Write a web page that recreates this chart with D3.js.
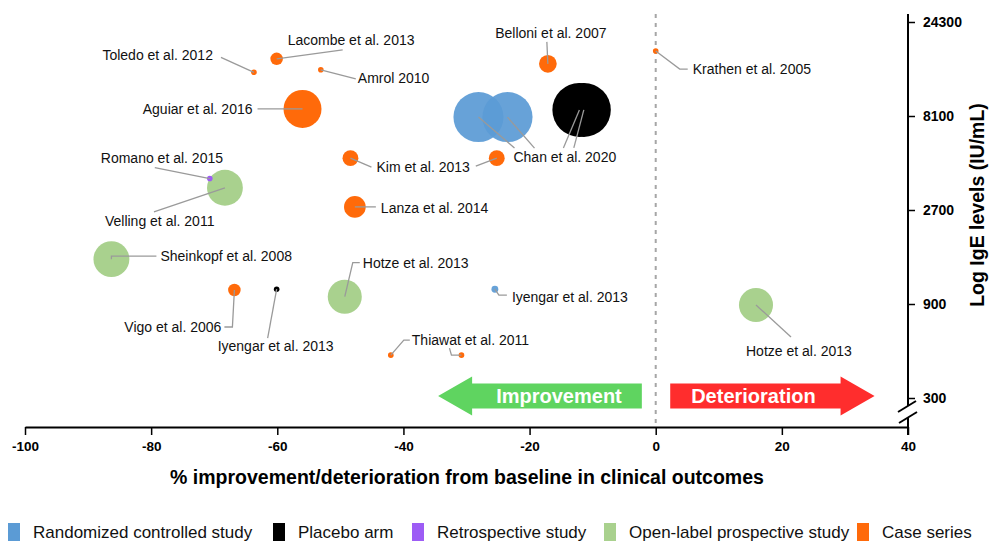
<!DOCTYPE html>
<html>
<head>
<meta charset="utf-8">
<script src="https://cdn.jsdelivr.net/npm/d3@7/dist/d3.min.js"></script>
<style>
  html, body { margin: 0; padding: 0; background: #fff; }
  svg { display: block; font-family: "Liberation Sans", Arial, sans-serif; }
</style>
</head>
<body>
<svg id="chart" width="990" height="542"></svg>
<script>
// ---------------- data ----------------
const studies = [
  "Toledo et al. 2012", "Lacombe et al. 2013", "Amrol 2010", "Aguiar et al. 2016",
  "Romano et al. 2015", "Velling et al. 2011", "Kim et al. 2013", "Kim et al. 2013",
  "Lanza et al. 2014", "Belloni et al. 2007", "Chan et al. 2020", "Chan et al. 2020",
  "Chan et al. 2020", "Chan et al. 2020", "Krathen et al. 2005", "Sheinkopf et al. 2008",
  "Vigo et al. 2006", "Iyengar et al. 2013", "Hotze et al. 2013", "Thiawat et al. 2011",
  "Thiawat et al. 2011", "Iyengar et al. 2013", "Hotze et al. 2013"
];
const designs = [
  "Case series", "Case series", "Case series", "Case series",
  "Retrospective study", "Open-label prospective study", "Case series", "Case series",
  "Case series", "Case series", "Randomized controlled study", "Randomized controlled study",
  "Placebo arm", "Placebo arm", "Case series", "Open-label prospective study",
  "Case series", "Placebo arm", "Open-label prospective study", "Case series",
  "Case series", "Randomized controlled study", "Open-label prospective study"
];
// % improvement (negative) / deterioration (positive) from baseline
const pctChange = [
  -63.7, -60.1, -53.1, -56.0,
  -70.7, -68.3, -48.4, -25.2,
  -47.7, -17.1, -28.1, -23.5,
  -12.1, -11.4, 0.0, -86.3,
  -66.8, -60.1, -49.3, -42.0,
  -30.8, -25.5, 15.9
];
// IgE levels (IU/mL)
const igeLevels = [
  13500, 15800, 13900, 8800,
  3900, 3500, 4950, 4950,
  2800, 14900, 8000, 8000,
  8700, 8700, 17300, 1520,
  1060, 1070, 980, 495,
  495, 1070, 890
];
// relative sample size (bubble area)
const sampleSize = [
  1, 5, 1, 46,
  1, 41, 8, 8,
  15, 10, 80, 80,
  93, 93, 1, 41,
  5, 1, 37, 1,
  1, 1.5, 37
];
const designNames = ["Randomized controlled study", "Placebo arm", "Retrospective study",
                     "Open-label prospective study", "Case series"];
const designColors = ["#5b9bd5", "#000000", "#9d5cf5", "#a9d18e", "#ff6a0a"];
const xTicks = [-100, -80, -60, -40, -20, 0, 20, 40];
const yTicks = [300, 900, 2700, 8100, 24300];
const xTitle = "% improvement/deterioration from baseline in clinical outcomes";
const yTitle = "Log IgE levels (IU/mL)";

// ---------------- layout (annotation offsets in px) ----------------
const labelLayout = [
  {pts: [0], tx: -41, ty: -17, anchor: "end", legs: [[[-33, -15]]]},
  {pts: [1], tx: 11, ty: -19, anchor: "start", legs: [[[66, -9]]]},
  {pts: [2], tx: 37, ty: 8, anchor: "start", legs: [[[35, 9]]]},
  {pts: [3], tx: -50, ty: 0, anchor: "end", legs: [[[-45, 0]]]},
  {pts: [4], tx: -109, ty: -21, anchor: "start", legs: [[[-55, -11]]]},
  {pts: [5], tx: -120, ty: 33, anchor: "start", legs: [[[-71, 24]]]},
  {pts: [6, 7], tx: 26, ty: 9, anchor: "start", legs: [[[21, 9]], [[-21, 8]]]},
  {pts: [8], tx: 26, ty: 1, anchor: "start", legs: [[[21, 0]]]},
  {pts: [9], tx: 3, ty: -31, anchor: "middle", legs: [[[-1, -22]]]},
  {pts: [10, 11, 12, 13], tx: 35, ty: 40, anchor: "start",
   legs: [[[36, 31]], [[27, 31]], [[-16, 38]], [[-10, 38]]]},
  {pts: [14], tx: 37, ty: 18, anchor: "start", legs: [[[24, 18], [32, 18]]]},
  {pts: [15], tx: 49, ty: -3, anchor: "start", legs: [[[0, -3], [45, -3]]]},
  {pts: [16], tx: -13, ty: 37, anchor: "end", legs: [[[-2, 37], [-10, 37]]]},
  {pts: [17], tx: -59, ty: 57, anchor: "start", legs: [[[-9, 49]]]},
  {pts: [18], tx: 18, ty: -34, anchor: "start", legs: [[[8, -34], [15, -34]]]},
  {pts: [19, 20], tx: 21, ty: -15, anchor: "start",
   legs: [[[13, -15], [19, -15]], [[-10, 0], [-12, -7]]]},
  {pts: [21], tx: 17, ty: 8, anchor: "start", legs: [[[4, 6], [12, 6]]]},
  {pts: [22], tx: -10, ty: 46, anchor: "start", legs: [[[35, 32]]]}
];
const legendX = [8, 273, 412, 604, 857];

// ---------------- chart ----------------
const svg = d3.select("#chart");
const x = d3.scaleLinear().domain([-100, 40]).range([25, 908]);
const y = d3.scaleLog().base(3).domain([300, 24300]).range([398, 22]);
const r = d3.scaleSqrt().domain([0, 100]).range([0, 28]);
const color = d3.scaleOrdinal().domain(designNames).range(designColors);
const axisY0 = 427, axisX1 = 908;

const points = studies.map((s, i) => ({
  study: s, design: designs[i], pct: pctChange[i], ige: igeLevels[i], n: sampleSize[i]
}));

// zero dashed line
svg.append("line")
  .attr("x1", x(0)).attr("x2", x(0)).attr("y1", 14).attr("y2", axisY0)
  .attr("stroke", "#a6a6a6").attr("stroke-width", 2).attr("stroke-dasharray", "4,5");

// arrows
function arrow(xTail, xTip, label, fill) {
  const dir = Math.sign(xTip - xTail);
  const headLen = 34, bodyH = 12.5, headH = 19.5, cy = 396;
  const xNeck = xTip - dir * headLen;
  const pts = [
    [xTail, cy - bodyH], [xNeck, cy - bodyH], [xNeck, cy - headH], [xTip, cy],
    [xNeck, cy + headH], [xNeck, cy + bodyH], [xTail, cy + bodyH]
  ];
  svg.append("polygon").attr("points", pts.map(p => p.join(",")).join(" ")).attr("fill", fill);
  svg.append("text")
    .attr("x", (xTail + xNeck) / 2 - dir * 2).attr("y", cy)
    .attr("text-anchor", "middle").attr("dominant-baseline", "central")
    .attr("fill", "#fff").attr("font-weight", "bold").attr("font-size", 20)
    .text(label);
}
arrow(x(-2.2), x(-34.5), "Improvement", "#5fd460");
arrow(x(2.3), x(34.7), "Deterioration", "#ff2d2d");

// bubbles (larger first)
const order = d3.range(points.length).sort((a, b) => points[b].n - points[a].n);
svg.append("g").selectAll("circle")
  .data(order.map(i => points[i]))
  .join("circle")
  .attr("cx", d => x(d.pct))
  .attr("cy", d => y(d.ige))
  .attr("r", d => r(d.n))
  .attr("fill", d => color(d.design))
  .attr("fill-opacity", d => d.design === "Randomized controlled study" ? 0.93 : 1);

// leaders + labels
const gl = svg.append("g");
labelLayout.forEach(L => {
  L.pts.forEach((pi, k) => {
    const cx = x(points[pi].pct), cy = y(points[pi].ige);
    const path = [[cx, cy]].concat(L.legs[k].map(o => [cx + o[0], cy + o[1]]));
    gl.append("path")
      .attr("d", d3.line()(path))
      .attr("fill", "none").attr("stroke", "#9a9a9a").attr("stroke-width", 1.3);
  });
  const p0 = points[L.pts[0]];
  gl.append("text")
    .attr("x", x(p0.pct) + L.tx).attr("y", y(p0.ige) + L.ty)
    .attr("text-anchor", L.anchor).attr("dominant-baseline", "central")
    .attr("font-size", 14).attr("fill", "#111")
    .text(p0.study);
});

// x axis
const gx = svg.append("g").attr("transform", `translate(0,${axisY0})`)
  .call(d3.axisBottom(x).tickValues(xTicks).tickSize(8).tickSizeOuter(0).tickPadding(6)
        .tickFormat(d => String(d)));
gx.select(".domain").attr("stroke", "#000").attr("stroke-width", 2);
gx.selectAll(".tick line").attr("stroke", "#000").attr("stroke-width", 1.5);
gx.selectAll(".tick text").attr("font-family", "Liberation Sans, Arial, sans-serif")
  .attr("font-size", 13.5).attr("font-weight", "bold").attr("fill", "#000");

svg.append("text").attr("x", 467).attr("y", 477)
  .attr("text-anchor", "middle").attr("dominant-baseline", "central")
  .attr("font-size", 19.5).attr("font-weight", "bold").attr("fill", "#000")
  .text(xTitle);

// y axis (right) with break
const gy = svg.append("g").attr("transform", `translate(${axisX1},0)`)
  .call(d3.axisRight(y).tickValues(yTicks).tickSize(7).tickSizeOuter(0).tickPadding(8)
        .tickFormat(d => String(d)));
gy.select(".domain").remove();
gy.selectAll(".tick line").attr("stroke", "#000").attr("stroke-width", 1.5);
gy.selectAll(".tick text").attr("font-family", "Liberation Sans, Arial, sans-serif")
  .attr("font-size", 14).attr("font-weight", "bold").attr("fill", "#000");

const ax = svg.append("g").attr("stroke", "#000").attr("stroke-width", 2).attr("fill", "none");
ax.append("line").attr("x1", axisX1).attr("x2", axisX1).attr("y1", 14).attr("y2", 406);
ax.append("line").attr("x1", axisX1).attr("x2", axisX1).attr("y1", 418).attr("y2", 435);
ax.append("line").attr("x1", 898).attr("y1", 412).attr("x2", 916).attr("y2", 401);
ax.append("line").attr("x1", 899).attr("y1", 423).attr("x2", 917).attr("y2", 412);

svg.append("text")
  .attr("transform", "translate(984,205) rotate(-90)")
  .attr("text-anchor", "middle")
  .attr("font-size", 19.5).attr("font-weight", "bold").attr("fill", "#000")
  .text(yTitle);

// legend
const lg = svg.append("g");
designNames.forEach((name, i) => {
  lg.append("rect").attr("x", legendX[i]).attr("y", 523).attr("width", 12).attr("height", 18)
    .attr("fill", designColors[i]);
  lg.append("text").attr("x", legendX[i] + 25).attr("y", 532)
    .attr("dominant-baseline", "central").attr("font-size", 17).attr("fill", "#111")
    .text(name);
});
</script>
</body>
</html>
